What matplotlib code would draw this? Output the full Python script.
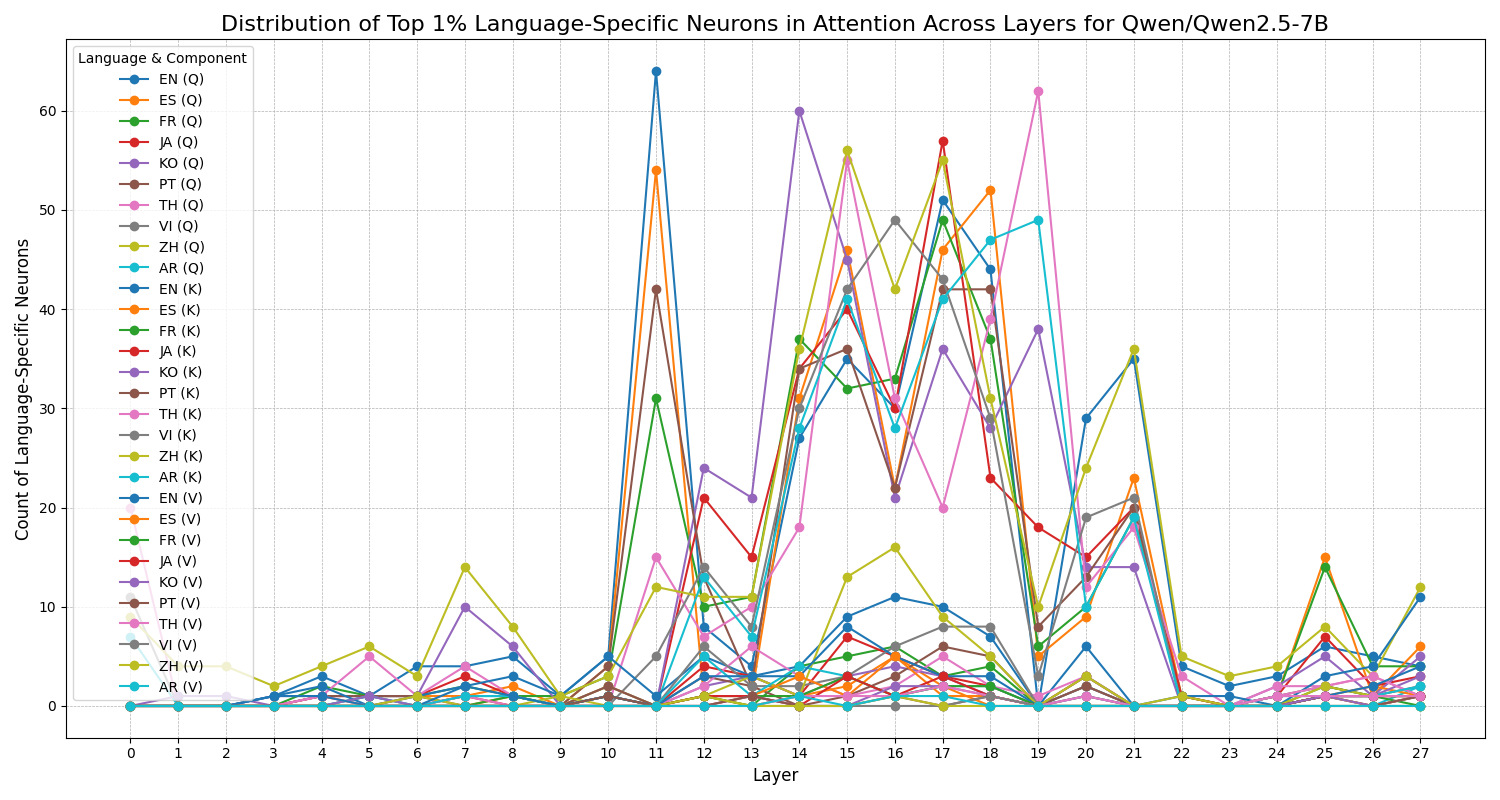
import matplotlib
matplotlib.use('Agg')
import matplotlib.pyplot as plt
import numpy as np

layers = list(range(28))
languages = ['EN', 'ES', 'FR', 'JA', 'KO', 'PT', 'TH', 'VI', 'ZH', 'AR']

q_counts = {
    'EN': [0,0,0,1,3,1,4,4,5,1,5,64,8,4,27,35,30,51,44,0,29,35,4,2,3,6,5,4],
    'ES': [0,0,0,0,1,0,1,1,2,0,4,54,1,1,31,46,22,46,52,5,9,23,1,0,1,15,1,6],
    'FR': [0,0,0,0,2,1,1,2,1,1,3,31,10,11,37,32,33,49,37,6,10,19,1,0,1,14,4,4],
    'JA': [0,0,0,0,1,1,1,3,1,0,1,0,21,15,34,40,30,57,23,18,15,20,1,0,1,7,2,3],
    'KO': [0,0,0,1,1,1,1,10,6,0,0,0,24,21,60,45,21,36,28,38,14,14,0,0,2,5,1,5],
    'PT': [0,0,0,0,1,1,1,0,0,0,4,42,13,2,34,36,22,42,42,8,13,20,0,0,1,2,1,2],
    'TH': [20,0,0,0,1,5,1,4,1,0,0,15,7,10,18,55,31,20,39,62,12,18,3,0,2,2,3,1],
    'VI': [11,0,0,0,0,1,0,0,0,0,0,5,14,8,30,42,49,43,29,3,19,21,0,0,0,1,1,1],
    'ZH': [9,4,4,2,4,6,3,14,8,1,3,12,11,11,36,56,42,55,31,10,24,36,5,3,4,8,3,12],
    'AR': [7,0,0,0,0,1,0,1,1,0,2,0,13,7,28,41,28,41,47,49,10,19,0,0,1,1,0,2],
}
k_counts = {
    'EN': [0,0,0,1,2,0,1,2,3,1,5,1,5,3,4,9,11,10,7,0,6,0,1,1,0,3,4,11],
    'ES': [0,0,0,0,0,0,0,0,1,0,2,0,1,0,1,2,5,2,0,0,1,0,0,0,0,1,2,1],
    'FR': [0,0,0,0,0,0,0,0,1,0,1,0,1,0,4,5,6,3,4,0,2,0,0,0,0,2,1,1],
    'JA': [0,0,0,0,0,0,0,1,0,0,1,0,4,3,1,7,5,3,2,0,3,0,0,0,0,1,1,1],
    'KO': [0,1,1,0,0,1,0,0,0,0,0,0,2,3,1,3,4,3,1,0,2,0,0,0,0,1,1,3],
    'PT': [0,0,0,0,0,0,0,0,0,0,2,0,3,2,0,1,3,6,5,0,2,0,0,0,0,1,0,1],
    'TH': [0,0,0,0,1,0,0,1,0,0,0,0,2,6,3,1,2,5,2,1,3,0,0,0,1,2,3,1],
    'VI': [0,0,0,0,0,0,0,0,0,0,0,0,6,2,2,3,6,8,8,0,3,0,0,0,0,1,1,1],
    'ZH': [0,0,0,0,0,0,1,0,0,1,0,0,1,3,1,13,16,9,5,0,3,0,1,0,0,2,1,1],
    'AR': [0,0,0,0,0,0,0,1,1,0,1,0,5,1,4,3,1,2,2,0,1,0,0,0,0,1,1,2],
}
v_counts = {
    'EN': [0,0,0,1,1,0,0,2,1,0,1,0,3,3,3,8,5,3,3,0,0,0,0,0,0,1,2,4],
    'ES': [0,0,0,0,0,0,0,0,0,0,0,0,0,1,3,1,5,1,1,0,0,0,0,0,0,1,0,1],
    'FR': [0,0,0,0,0,0,0,0,0,0,0,0,1,1,1,3,1,2,2,0,0,0,0,0,0,1,1,0],
    'JA': [0,0,0,0,0,0,0,0,0,0,0,0,1,1,0,3,1,3,1,0,0,0,0,0,0,1,1,1],
    'KO': [0,0,0,0,0,0,0,0,0,0,0,0,0,1,0,0,2,2,1,0,1,0,0,0,0,1,0,1],
    'PT': [0,0,0,0,0,0,0,0,0,0,1,0,0,1,0,0,1,0,1,0,0,0,0,0,0,0,0,1],
    'TH': [0,0,0,0,0,0,0,0,0,0,0,0,0,0,1,1,1,2,1,0,1,0,0,0,1,1,1,1],
    'VI': [0,0,0,0,0,0,0,0,0,0,0,0,0,0,0,0,0,0,1,0,0,0,0,0,0,0,0,0],
    'ZH': [0,0,0,0,0,0,0,0,0,0,0,0,1,0,0,0,1,0,0,0,0,0,0,0,0,0,0,0],
    'AR': [0,0,0,0,0,0,0,0,0,0,0,0,0,0,1,0,1,1,0,0,0,0,0,0,0,0,0,0],
}

fig, ax = plt.subplots(figsize=(15, 8), dpi=100)
for comp, data in [('Q', q_counts), ('K', k_counts), ('V', v_counts)]:
    for lang in languages:
        ax.plot(layers, data[lang], marker='o', label=f'{lang} ({comp})')

ax.set_title('Distribution of Top 1% Language-Specific Neurons in Attention Across Layers for Qwen/Qwen2.5-7B', fontsize=16)
ax.set_xlabel('Layer', fontsize=12)
ax.set_ylabel('Count of Language-Specific Neurons', fontsize=12)
ax.set_xticks(layers)
ax.grid(True, linestyle='--', linewidth=0.5)
ax.legend(title='Language & Component', loc='upper left', fontsize=10)
plt.tight_layout()
plt.savefig('out.png')
